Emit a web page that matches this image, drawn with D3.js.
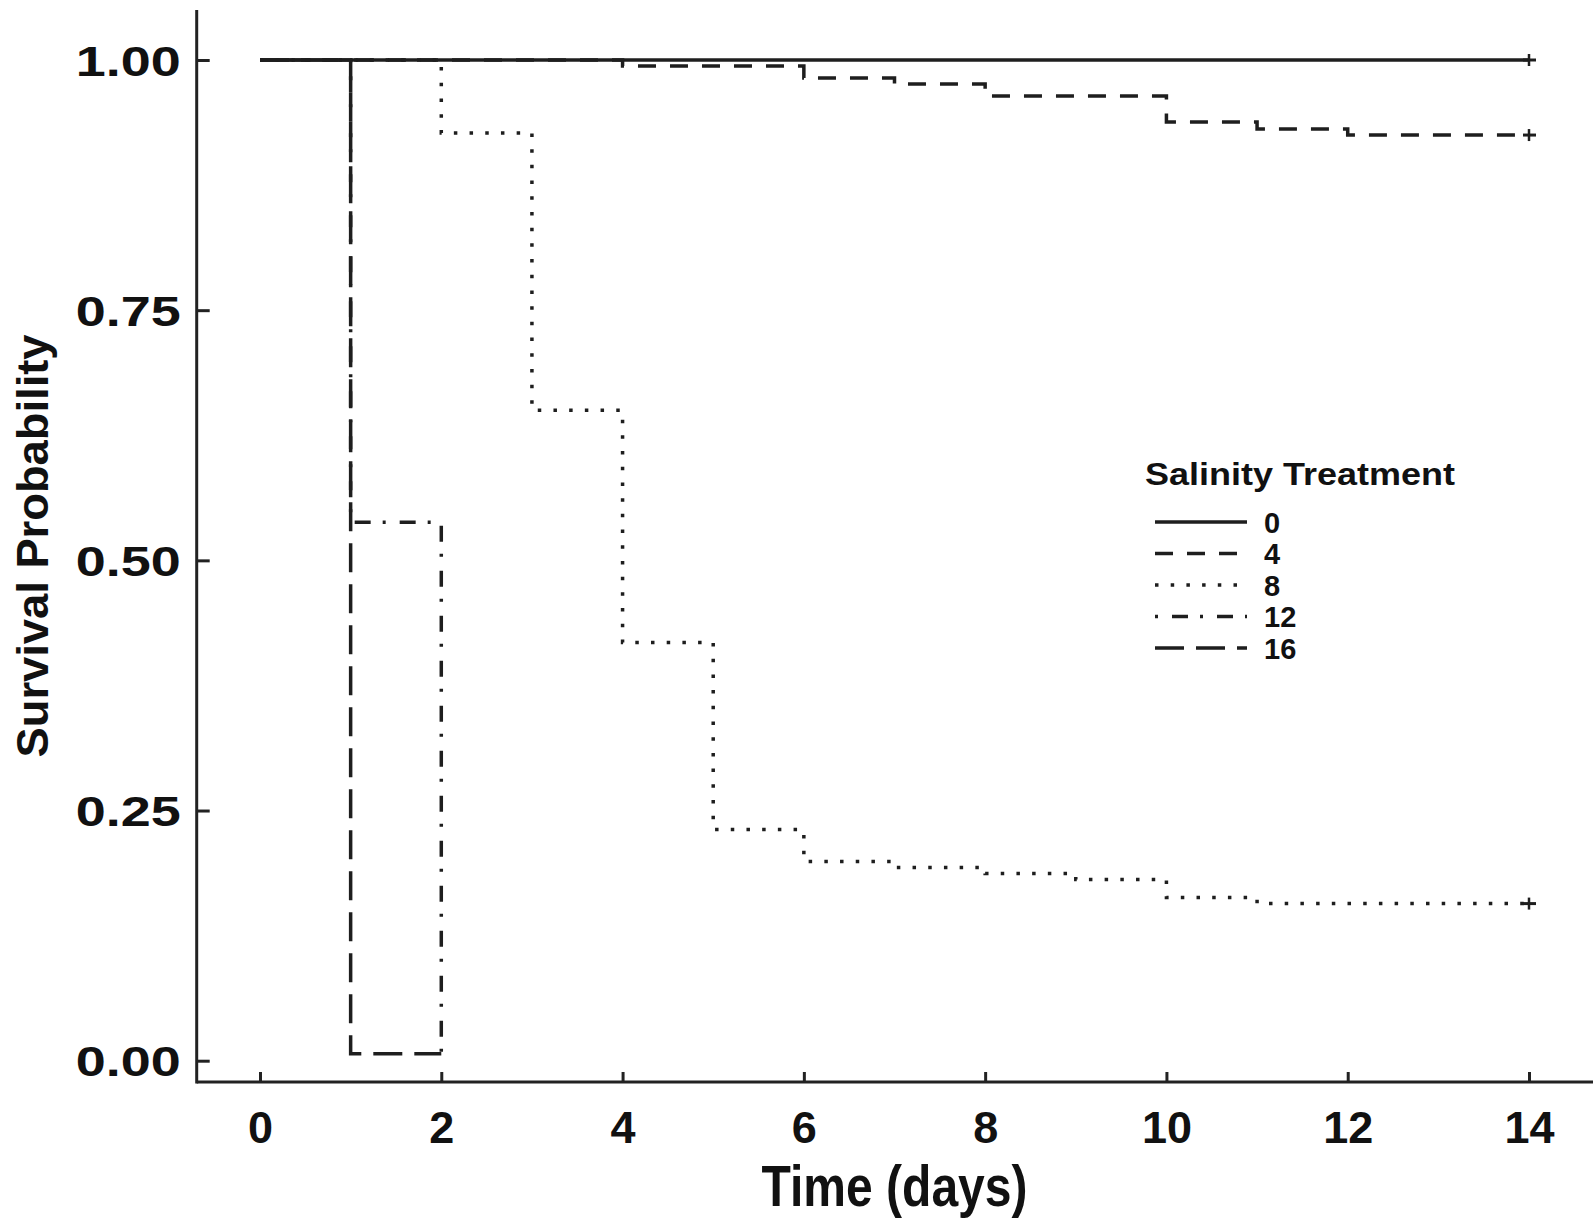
<!DOCTYPE html>
<html>
<head>
<meta charset="utf-8">
<script src="https://cdn.jsdelivr.net/npm/d3@7/dist/d3.min.js"></script>
<style>
    body { margin: 0; background: #fff; }
    svg { display: block; }
    text { font-family: "Liberation Sans", Arial, sans-serif; font-weight: bold; fill: #111; }
</style>
</head>
<body>
<svg id="chart" width="1593" height="1222"></svg>
<script>
// Kaplan-Meier steps, one pair of arrays per salinity group
var groups = ["0", "4", "8", "12", "16"];

var times_0 = [0, 14];
var surv_0 = [1.00, 1.00];

var times_4 = [0, 4, 6, 7, 8, 10, 11, 12, 14];
var surv_4 = [1.00, 0.994, 0.982, 0.976, 0.964, 0.938, 0.931, 0.925, 0.925];

var times_8 = [0, 2, 3, 4, 5, 6, 7, 8, 9, 10, 11, 14];
var surv_8 = [1.00, 0.927, 0.650, 0.418, 0.231, 0.199, 0.193, 0.187, 0.181, 0.163, 0.157, 0.157];

var times_12 = [0, 1, 2];
var surv_12 = [1.00, 0.538, 0.00];

var times_16 = [0, 1, 2];
var surv_16 = [1.00, 0.007, 0.007];

// groups still alive at the end get a censor mark
var censored = ["0", "4", "8"];

var x_ticks = [0, 2, 4, 6, 8, 10, 12, 14];
var y_ticks = [0, 0.25, 0.5, 0.75, 1];

var dashes = {
    "0": null,
    "4": "18,14",
    "8": "3.5,12.2",
    "12": "3,14,16,12",
    "16": "29,12"
};

var svg = d3.select("#chart");

var x = d3.scaleLinear().domain([0, 14]).range([260, 1529]);
var y = d3.scaleLinear().domain([0, 1]).range([1060.7, 60]);

var axis_x = 196.7;   // where the y axis sits
var axis_y = 1082;    // where the x axis sits

// axis lines
svg.append("line")
    .attr("x1", axis_x).attr("x2", 1593)
    .attr("y1", axis_y).attr("y2", axis_y)
    .attr("stroke", "#222").attr("stroke-width", 3);
svg.append("line")
    .attr("x1", axis_x).attr("x2", axis_x)
    .attr("y1", 10).attr("y2", axis_y + 1.5)
    .attr("stroke", "#222").attr("stroke-width", 3);

// x axis, ticks pointing up into the plot
var gx = svg.append("g")
    .attr("transform", "translate(0," + axis_y + ")")
    .call(d3.axisBottom(x).tickValues(x_ticks).tickSizeInner(-10).tickSizeOuter(0).tickPadding(29));
gx.select(".domain").remove();
gx.selectAll(".tick line").attr("stroke", "#222").attr("stroke-width", 3);
gx.selectAll(".tick text").style("font-size", "45px").attr("fill", "#111");

// y axis, ticks pointing right
var gy = svg.append("g")
    .attr("transform", "translate(" + axis_x + ",0)")
    .call(d3.axisLeft(y).tickValues(y_ticks).tickFormat(d3.format(".2f")).tickSizeInner(-13).tickSizeOuter(0).tickPadding(16));
gy.select(".domain").remove();
gy.selectAll(".tick line").attr("stroke", "#222").attr("stroke-width", 3);
gy.selectAll(".tick text")
    .style("font-size", "42px")
    .attr("fill", "#111")
    .attr("dy", "0.36em")
    .attr("textLength", 105)
    .attr("lengthAdjust", "spacingAndGlyphs");

// axis titles
svg.append("text")
    .attr("x", 894.5).attr("y", 1206)
    .attr("text-anchor", "middle")
    .style("font-size", "58px")
    .attr("textLength", 266)
    .attr("lengthAdjust", "spacingAndGlyphs")
    .text("Time (days)");

svg.append("text")
    .attr("transform", "translate(48,546) rotate(-90)")
    .attr("text-anchor", "middle")
    .style("font-size", "44px")
    .attr("textLength", 423)
    .attr("lengthAdjust", "spacingAndGlyphs")
    .text("Survival Probability");

// build series objects from the arrays
function series(name, times, surv) {
    return { name: name, points: times.map(function (t, i) { return { t: t, s: surv[i] }; }) };
}
var all_series = [
    series("0", times_0, surv_0),
    series("4", times_4, surv_4),
    series("8", times_8, surv_8),
    series("12", times_12, surv_12),
    series("16", times_16, surv_16)
];

var step = d3.line()
    .x(function (d) { return x(d.t); })
    .y(function (d) { return y(d.s); })
    .curve(d3.curveStepAfter);

svg.append("g").selectAll("path")
    .data(all_series).enter()
    .append("path")
    .attr("d", function (d) { return step(d.points); })
    .attr("fill", "none")
    .attr("stroke", "#1e1e1e")
    .attr("stroke-width", 3.5)
    .attr("stroke-dasharray", function (d) { return dashes[d.name]; });

// censor "+" marks at the last time point
var marks = all_series.filter(function (d) { return censored.indexOf(d.name) !== -1; })
    .map(function (d) { return d.points[d.points.length - 1]; });

var plus = svg.append("g").selectAll("g")
    .data(marks).enter()
    .append("g")
    .attr("transform", function (d) { return "translate(" + x(d.t) + "," + y(d.s) + ")"; });
plus.append("line").attr("x1", -6).attr("x2", 7).attr("y1", 0).attr("y2", 0)
    .attr("stroke", "#1e1e1e").attr("stroke-width", 3);
plus.append("line").attr("x1", 0).attr("x2", 0).attr("y1", -6).attr("y2", 6)
    .attr("stroke", "#1e1e1e").attr("stroke-width", 2.5);

// legend
var legend = svg.append("g");
legend.append("text")
    .attr("x", 1145).attr("y", 485)
    .style("font-size", "32px")
    .attr("textLength", 310)
    .attr("lengthAdjust", "spacingAndGlyphs")
    .text("Salinity Treatment");

var row_y = d3.scalePoint().domain(groups).range([522, 648]);

var rows = legend.selectAll("g.row")
    .data(groups).enter()
    .append("g")
    .attr("class", "row")
    .attr("transform", function (d) { return "translate(0," + row_y(d) + ")"; });

rows.append("line")
    .attr("x1", 1155).attr("x2", 1247)
    .attr("y1", 0).attr("y2", 0)
    .attr("stroke", "#1e1e1e")
    .attr("stroke-width", 3.5)
    .attr("stroke-dasharray", function (d) { return dashes[d]; });

rows.append("text")
    .attr("x", 1264).attr("y", 10.5)
    .style("font-size", "29px")
    .text(function (d) { return d; });
</script>
</body>
</html>
